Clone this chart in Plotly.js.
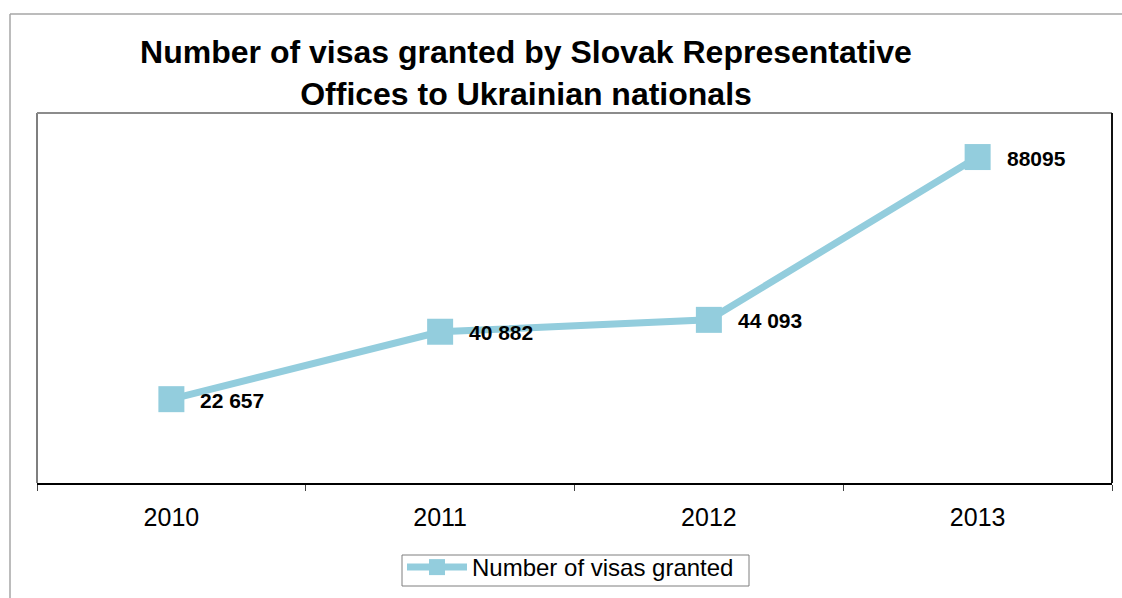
<!DOCTYPE html>
<html>
<head>
<meta charset="utf-8">
<script src="https://cdn.plot.ly/plotly-3.0.1.min.js"></script>
<style>html,body{margin:0;padding:0;background:#fff;}#chart{width:1122px;height:598px;}</style>
</head>
<body>
<div id="chart"></div>
<script>
const years = ['2010', '2011', '2012', '2013'];
const visas = [22657, 40882, 44093, 88095];
const valueLabels = ['22 657', '40 882', '44 093', '88095'];
const seriesName = 'Number of visas granted';
const chartTitle = 'Number of visas granted by Slovak Representative<br>Offices to Ukrainian nationals';

const FONT = '"Liberation Sans", Arial, sans-serif';
const LINE_COLOR = '#93cddd';

const trace = {
  type: 'scatter',
  mode: 'lines+markers',
  x: years,
  y: visas,
  name: seriesName,
  line: {color: LINE_COLOR, width: 7},
  marker: {symbol: 'square', size: 26, color: LINE_COLOR, line: {width: 0}},
  showlegend: true,
  hoverinfo: 'x+y'
};

// data labels: x given as the category's index on the category axis
const annotations = years.map((yr, i) => ({
  x: i, y: visas[i], xref: 'x', yref: 'y',
  text: valueLabels[i], showarrow: false,
  xanchor: 'left', yanchor: 'middle', xshift: 27, yshift: -1,
  font: {family: FONT, size: 21, color: '#000', weight: 700}
}));

const PX = v => (v - 37) / 1075;   // container px -> paper x
const PY = v => (483 - v) / 370;   // container px -> paper y

const shapes = [
  // outer chart border
  {type: 'line', xref: 'paper', yref: 'paper', x0: PX(10), x1: PX(10), y0: PY(610), y1: PY(14), line: {color: '#a6a6a6', width: 1.5}},
  {type: 'line', xref: 'paper', yref: 'paper', x0: PX(10), x1: PX(1130), y0: PY(14), y1: PY(14), line: {color: '#a6a6a6', width: 1.5}},
  // plot area frame
  {type: 'line', xref: 'paper', yref: 'paper', x0: 0, x1: 0, y0: 0, y1: 1, line: {color: '#7f7f7f', width: 2}},
  {type: 'line', xref: 'paper', yref: 'paper', x0: 0, x1: 1, y0: 1, y1: 1, line: {color: '#8c8c8c', width: 2}},
  {type: 'line', xref: 'paper', yref: 'paper', x0: 1, x1: 1, y0: 0, y1: 1, line: {color: '#111', width: 2}},
  // legend box
  {type: 'rect', xref: 'paper', yref: 'paper', x0: PX(402), x1: PX(749), y0: PY(586), y1: PY(555), line: {color: '#7f7f7f', width: 1}, fillcolor: 'rgba(0,0,0,0)'}
];

const layout = {
  width: 1122, height: 598,
  margin: {l: 37, r: 10, t: 113, b: 115, pad: 0, autoexpand: false},
  paper_bgcolor: '#fff', plot_bgcolor: '#fff',
  font: {family: FONT, color: '#000'},
  title: {
    text: chartTitle,
    font: {family: FONT, size: 32, color: '#000', weight: 700},
    xref: 'container', yref: 'container',
    x: 526 / 1122, xanchor: 'center',
    y: 1 - 63 / 598, yanchor: 'top'
  },
  xaxis: {
    type: 'category', range: [-0.5, 3.5],
    tickson: 'boundaries', ticks: 'outside', ticklen: 6, tickwidth: 1, tickcolor: '#444',
    showline: true, linecolor: '#000', linewidth: 2,
    showgrid: false, zeroline: false,
    tickfont: {family: FONT, size: 25, color: '#000'},
    ticklabelstandoff: 11,
    fixedrange: true
  },
  yaxis: {
    range: [0, 100000],
    showticklabels: false, ticks: '', showgrid: false, zeroline: false, showline: false,
    fixedrange: true
  },
  showlegend: true,
  legend: {
    orientation: 'h',
    x: PX(402), xanchor: 'left',
    y: PY(545), yanchor: 'top',
    borderwidth: 0,
    bgcolor: 'rgba(0,0,0,0)',
    font: {family: FONT, size: 24, color: '#000'},
    itemwidth: 60
  },
  annotations: annotations,
  shapes: shapes
};

Plotly.newPlot('chart', [trace], layout, {displayModeBar: false, staticPlot: true});
</script>
</body>
</html>
